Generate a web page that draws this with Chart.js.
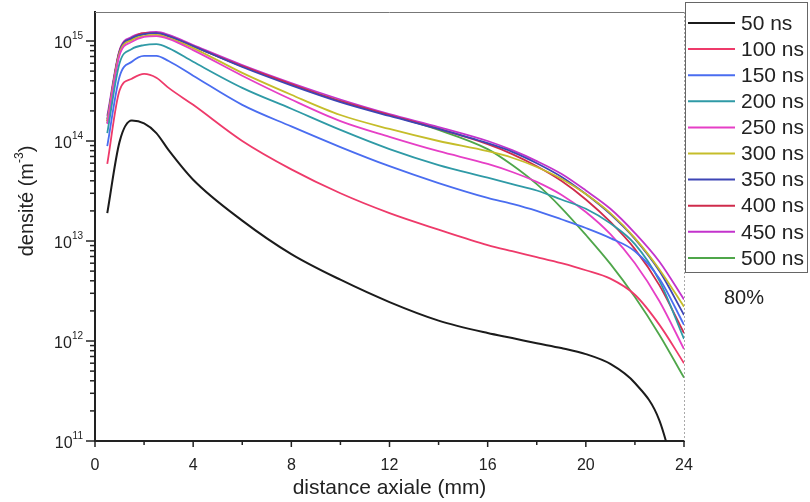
<!DOCTYPE html>
<html>
<head>
<meta charset="utf-8">
<script src="https://cdn.jsdelivr.net/npm/chart.js@4.4.1/dist/chart.umd.min.js"></script>
<style>
  html, body { margin: 0; padding: 0; background: #fff; }
  canvas { display: block; }
</style>
</head>
<body>
<canvas id="densityChart" width="810" height="502"></canvas>
<script>
// distance axiale (mm) et densité (m^-3)
const distance = [0.5, 1, 1.5, 2, 2.5, 3, 4, 6, 8, 10, 12, 14, 16, 17, 18, 19, 20, 21, 22, 23, 24];
const times = ["50 ns", "100 ns", "150 ns", "200 ns", "250 ns", "300 ns", "350 ns", "400 ns", "450 ns", "500 ns"];

const d50  = [1.9e13, 9.8e13, 1.6e14, 1.5e14, 1.2e14, 8.1e13, 4.1e13, 1.6e13, 7.4e12, 4.1e12, 2.45e12, 1.6e12, 1.2e12, 1.07e12, 9.5e11, 8.5e11, 7.4e11, 5.9e11, 3.8e11, 1.6e11, 2e10];
const d100 = [5.9e13, 3.2e14, 4.2e14, 4.7e14, 4.3e14, 3.4e14, 2.3e14, 1.0e14, 5.2e13, 3.0e13, 1.9e13, 1.3e13, 9.1e12, 7.9e12, 6.9e12, 6.0e12, 5.1e12, 4.2e12, 2.9e12, 1.45e12, 6.0e11];
const d150 = [8.9e13, 4.4e14, 6.2e14, 7.1e14, 7.1e14, 6.3e14, 4.5e14, 2.3e14, 1.4e14, 8.7e13, 5.6e13, 3.8e13, 2.7e13, 2.35e13, 2.0e13, 1.65e13, 1.35e13, 1.07e13, 7.9e12, 4.2e12, 1.45e12];
const d200 = [1.2e14, 6.0e14, 8.3e14, 9.1e14, 9.3e14, 8.5e14, 6.2e14, 3.4e14, 2.1e14, 1.29e14, 8.3e13, 5.75e13, 4.3e13, 3.7e13, 3.2e13, 2.6e13, 2.1e13, 1.5e13, 9.3e12, 4.0e12, 1.05e12];
const d250 = [1.48e14, 7.2e14, 9.8e14, 1.1e15, 1.12e15, 1.05e15, 8.1e14, 4.5e14, 2.6e14, 1.58e14, 1.1e14, 7.9e13, 5.9e13, 4.9e13, 3.9e13, 2.9e13, 1.95e13, 1.17e13, 6.0e12, 2.5e12, 8.3e11];
const d300 = [1.58e14, 7.6e14, 1.02e15, 1.12e15, 1.15e15, 1.07e15, 8.5e14, 4.8e14, 2.9e14, 1.82e14, 1.32e14, 1.0e14, 7.9e13, 6.8e13, 5.5e13, 4.2e13, 2.95e13, 1.9e13, 1.07e13, 5.2e12, 2.2e12];
const d350 = [1.66e14, 7.8e14, 1.07e15, 1.17e15, 1.2e15, 1.12e15, 8.9e14, 5.5e14, 3.6e14, 2.45e14, 1.78e14, 1.32e14, 9.5e13, 7.8e13, 6.0e13, 4.4e13, 2.95e13, 1.86e13, 1.05e13, 5.0e12, 1.82e12];
const d400 = [1.58e14, 7.9e14, 1.07e15, 1.2e15, 1.2e15, 1.12e15, 8.9e14, 5.6e14, 3.7e14, 2.5e14, 1.82e14, 1.32e14, 9.3e13, 7.4e13, 5.6e13, 4.0e13, 2.6e13, 1.55e13, 8.3e12, 3.6e12, 1.2e12];
const d450 = [1.78e14, 8.1e14, 1.1e15, 1.2e15, 1.23e15, 1.15e15, 9.1e14, 5.75e14, 3.8e14, 2.6e14, 1.86e14, 1.38e14, 1.0e14, 8.1e13, 6.3e13, 4.7e13, 3.2e13, 2.1e13, 1.2e13, 6.2e12, 2.6e12];
const d500 = [1.51e14, 7.8e14, 1.05e15, 1.17e15, 1.2e15, 1.12e15, 8.9e14, 5.6e14, 3.7e14, 2.5e14, 1.82e14, 1.29e14, 8.3e13, 5.75e13, 3.7e13, 2.15e13, 1.15e13, 5.9e12, 2.75e12, 1.15e12, 4.3e11];

const xTicks = [0, 4, 8, 12, 16, 20, 24];
const yDecades = [11, 12, 13, 14, 15];

const series = [d50, d100, d150, d200, d250, d300, d350, d400, d450, d500];
const colors = ["#1b1b1b", "#ee3a6a", "#4a6df0", "#2f9aa6", "#e63fc6", "#c5bd2a", "#3d45b5", "#cf2b4b", "#c333cc", "#4fa64a"];

const FONT = "'Liberation Sans', Arial, sans-serif";
const INK = "#222";

// axes, graduations, titres et légende
const framePlugin = {
  id: "frame",
  afterDraw(chart) {
    const ctx = chart.ctx;
    const area = chart.chartArea;
    const xs = chart.scales.x;
    const ys = chart.scales.y;
    ctx.save();

    // cadre haut et droit
    ctx.strokeStyle = "#777";
    ctx.lineWidth = 1;
    ctx.beginPath();
    ctx.moveTo(area.left, area.top + 0.5);
    ctx.lineTo(area.right, area.top + 0.5);
    ctx.stroke();
    ctx.setLineDash([2, 2]);
    ctx.strokeStyle = "#aaa";
    ctx.beginPath();
    ctx.moveTo(area.right + 0.5, area.top);
    ctx.lineTo(area.right + 0.5, area.bottom);
    ctx.stroke();
    ctx.setLineDash([]);

    // graduations x
    ctx.strokeStyle = INK;
    ctx.lineWidth = 1.5;
    for (let v = 0; v <= 24; v += 2) {
      const px = xs.getPixelForValue(v);
      const len = v % 4 === 0 ? 6 : 4;
      ctx.beginPath();
      ctx.moveTo(px, area.bottom);
      ctx.lineTo(px, area.bottom + len);
      ctx.stroke();
    }

    // graduations y (log)
    yDecades.forEach(e => {
      for (let m = 1; m <= 9; m++) {
        const v = m * Math.pow(10, e);
        if (v > ys.max) break;
        const py = ys.getPixelForValue(v);
        const len = m === 1 ? 9 : 5;
        ctx.beginPath();
        ctx.moveTo(area.left - len, py);
        ctx.lineTo(area.left, py);
        ctx.stroke();
      }
    });

    // étiquettes y : 10^n
    ctx.fillStyle = INK;
    ctx.textBaseline = "middle";
    yDecades.forEach(e => {
      const py = ys.getPixelForValue(Math.pow(10, e));
      ctx.font = "16px " + FONT;
      const wBase = ctx.measureText("10").width;
      ctx.font = "10px " + FONT;
      const wSup = ctx.measureText(String(e)).width;
      const right = area.left - 12;
      ctx.textAlign = "left";
      ctx.font = "16px " + FONT;
      ctx.fillText("10", right - wSup - wBase, py + 3);
      ctx.font = "10px " + FONT;
      ctx.fillText(String(e), right - wSup, py - 5);
    });

    // titre y
    ctx.save();
    ctx.translate(27, 201);
    ctx.rotate(-Math.PI / 2);
    ctx.font = "20px " + FONT;
    const t1 = "densité (m";
    const w1 = ctx.measureText(t1).width;
    const w3 = ctx.measureText(")").width;
    ctx.font = "12px " + FONT;
    const w2 = ctx.measureText("-3").width;
    const x0 = -(w1 + w2 + w3) / 2;
    ctx.textAlign = "left";
    ctx.font = "20px " + FONT;
    ctx.fillText(t1, x0, 0);
    ctx.font = "12px " + FONT;
    ctx.fillText("-3", x0 + w1, -7);
    ctx.font = "20px " + FONT;
    ctx.fillText(")", x0 + w1 + w2, 0);
    ctx.restore();

    // titre x
    ctx.textAlign = "center";
    ctx.font = "21px " + FONT;
    ctx.fillText("distance axiale (mm)", (area.left + area.right) / 2, 488);

    // légende
    ctx.strokeStyle = "#666";
    ctx.lineWidth = 1;
    ctx.strokeRect(685.5, 2.5, 122, 270);
    ctx.textAlign = "left";
    ctx.font = "21px " + FONT;
    times.forEach((t, i) => {
      const y = 23 + i * 26.1;
      ctx.strokeStyle = colors[i];
      ctx.lineWidth = 2;
      ctx.beginPath();
      ctx.moveTo(688, y);
      ctx.lineTo(735, y);
      ctx.stroke();
      ctx.fillStyle = INK;
      ctx.fillText(t, 741, y + 1);
    });

    ctx.textAlign = "center";
    ctx.font = "20px " + FONT;
    ctx.fillText("80%", 744, 298);
    ctx.restore();
  }
};

const ctx = document.getElementById("densityChart").getContext("2d");

new Chart(ctx, {
  type: "line",
  data: {
    datasets: series.map((s, i) => ({
      label: times[i],
      data: s.map((v, j) => ({ x: distance[j], y: v })),
      borderColor: colors[i],
      backgroundColor: colors[i],
      borderWidth: i === 0 ? 2 : 1.8,
      pointRadius: 0,
      fill: false,
      cubicInterpolationMode: "monotone"
    }))
  },
  options: {
    responsive: false,
    animation: false,
    devicePixelRatio: 1,
    layout: { padding: { left: 0, top: 12, right: 126, bottom: 0 } },
    plugins: {
      legend: { display: false },
      tooltip: { enabled: false }
    },
    scales: {
      x: {
        type: "linear",
        min: 0,
        max: 24,
        afterFit: s => { s.height = 61; },
        afterBuildTicks: s => { s.ticks = xTicks.map(v => ({ value: v })); },
        grid: { display: false, drawTicks: true, tickLength: 6 },
        border: { display: true, color: INK, width: 2 },
        ticks: {
          color: INK,
          padding: 9,
          maxRotation: 0,
          font: { family: FONT, size: 16 }
        }
      },
      y: {
        type: "logarithmic",
        min: 1e11,
        max: 1.95e15,
        afterFit: s => { s.width = 95; },
        grid: { display: false },
        border: { display: true, color: INK, width: 2 },
        ticks: { display: false }
      }
    }
  },
  plugins: [framePlugin]
});
</script>
</body>
</html>
